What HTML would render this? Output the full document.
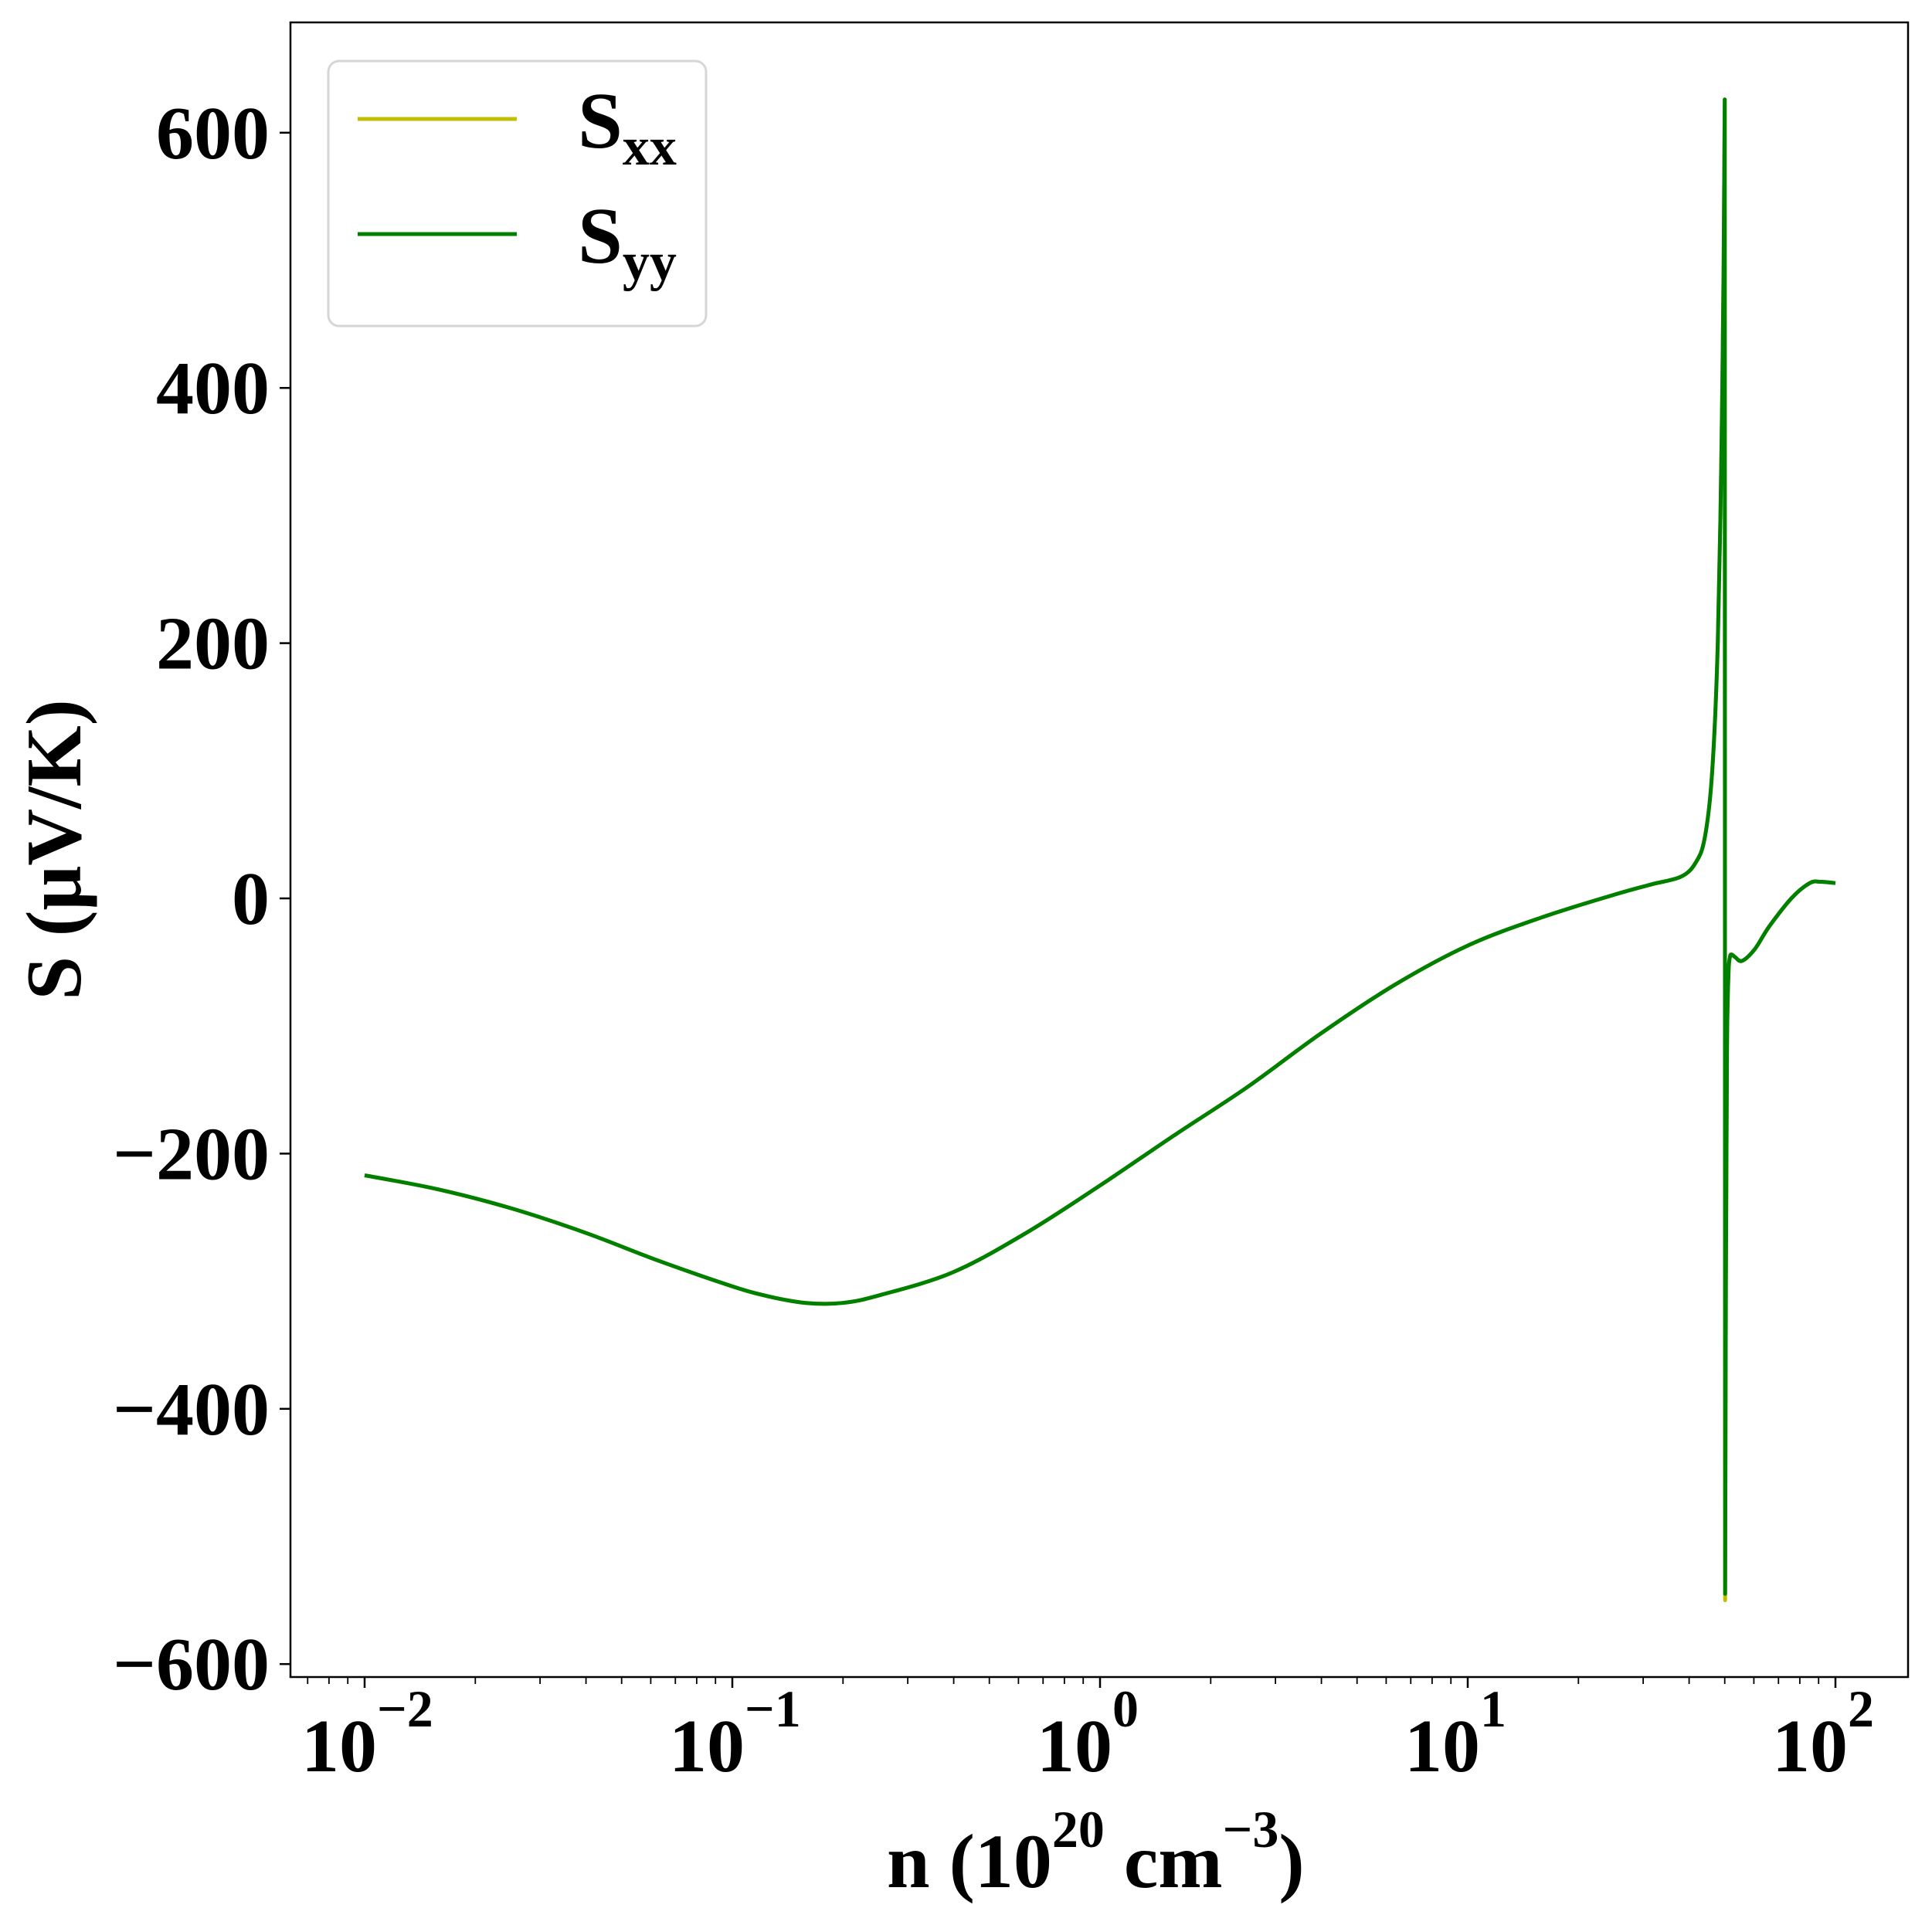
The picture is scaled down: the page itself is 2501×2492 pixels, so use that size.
<!DOCTYPE html>
<html><head><meta charset="utf-8"><style>
html,body{margin:0;padding:0;background:#fff;}
svg{display:block;font-family:"Liberation Serif","Times New Roman",serif;font-weight:bold;}
</style></head><body>
<svg id="chart" width="2501" height="2492" viewBox="0 0 2501 2492" xmlns="http://www.w3.org/2000/svg">
<rect width="2501" height="2492" fill="#fff"/>
<g id="ticks"></g>
<g id="series"></g>
<rect x="376" y="29" width="2094" height="2142" fill="none" stroke="#000" stroke-width="2.5"/>
<g>
<rect x="425" y="79" width="489" height="343" rx="14" fill="#fff" fill-opacity="0.8" stroke="#d6d6d6" stroke-width="3"/>
<line x1="463" y1="154" x2="669" y2="154" stroke="#bfbf00" stroke-width="5"/>
<text x="748" y="191" font-size="104">S<tspan font-size="70" dy="22">xx</tspan></text>
<line x1="463" y1="303" x2="669" y2="303" stroke="#008000" stroke-width="5"/>
<text x="748" y="340" font-size="104">S<tspan font-size="70" dy="22">yy</tspan></text>
</g>
<text transform="translate(104,1100) rotate(-90)" text-anchor="middle" font-size="102">S (μV/K)</text>
<text x="1148" y="2443" font-size="100">n (10<tspan font-size="68" dy="-52">20</tspan><tspan dy="52"> cm</tspan><tspan font-size="68" dy="-52">−3</tspan><tspan dy="52">)</tspan></text>
</svg>
<script>
const logN = [-2,-1.8,-1.6,-1.4,-1.2,-1.0,-0.9,-0.8,-0.7,-0.6,-0.4,-0.2,0,0.2,0.4,0.6,0.8,1.0,1.2,1.4,1.5,1.58,1.62,1.645,1.665,1.68,1.69,1.696,1.699,1.700,1.702,1.705,1.709,1.713,1.718,1.727,1.746,1.78,1.82,1.88,1.93,1.96,2.0];
const sxx = [-217,-228,-243,-262,-284,-304,-312,-317,-317,-311,-293,-262,-225,-186,-148,-106,-68,-37,-15,3,11,17,28,48,100,200,350,500,626,-550,-300,-120,-60,-46,-44,-46,-49,-40,-22,0,12,13,12];
const syy = [-217,-228,-243,-262,-284,-304,-312,-317,-317,-311,-293,-262,-225,-186,-148,-106,-68,-37,-15,3,11,17,28,48,100,200,350,500,626,-545,-300,-120,-60,-46,-44,-46,-49,-40,-22,0,12,13,12];
const yTicks = [-600,-400,-200,0,200,400,600];
const yTickLabels = ["−600","−400","−200","0","200","400","600"];
const xDecades = [-2,-1,0,1,2];
const xTickExps = ["−2","−1","0","1","2"];

const NS="http://www.w3.org/2000/svg";
function X(l){return 472+(l+2)*476;}
function Y(v){return 1163-v*1.652;}
const tg=document.getElementById('ticks'), sg=document.getElementById('series');
function mk(tag,attrs,parent){const e=document.createElementNS(NS,tag);for(const k in attrs)e.setAttribute(k,attrs[k]);parent.appendChild(e);return e;}
yTicks.forEach((v,i)=>{
  const l=mk('line',{x1:362,x2:376,y1:Y(v),y2:Y(v),stroke:'#000','stroke-width':2.5},tg);
  
  
  const t=mk('text',{x:349,y:Y(v)+33,'text-anchor':'end','font-size':98},tg);
  t.textContent=yTickLabels[i];
  
  
});
xDecades.forEach((d,i)=>{
  const l=mk('line',{x1:X(d),x2:X(d),y1:2171,y2:2185,stroke:'#000','stroke-width':2.5},tg);
  
  
  const t=mk('text',{x:X(d)-82,y:2293,'font-size':98},tg);
  t.textContent='10';
  const s=mk('tspan',{'font-size':68,dy:-58},t);
  s.textContent=xTickExps[i];
  
  
});
for(let d=-3;d<=2;d++){for(let m=2;m<=9;m++){const l=d+Math.log10(m);const x=X(l);if(x<378||x>2468)continue;
  const e=mk('line',{x1:x,x2:x,y1:2171,y2:2180,stroke:'#000','stroke-width':1.8},tg);
  
  }}
function path(vals){
  const P=logN.map((l,i)=>[X(l),Y(vals[i])]);
  let d='M'+P[0][0].toFixed(1)+','+P[0][1].toFixed(1);
  for(let i=0;i<P.length-1;i++){
    const p0=P[Math.max(0,i-1)],p1=P[i],p2=P[i+1],p3=P[Math.min(P.length-1,i+2)];
    const big=Math.abs(p2[1]-p1[1])>300||Math.abs(p1[1]-p0[1])>300||Math.abs(p3[1]-p2[1])>300;
    if(big){d+=' L'+p2[0].toFixed(1)+','+p2[1].toFixed(1);continue;}
    const c1=[p1[0]+(p2[0]-p0[0])/6,p1[1]+(p2[1]-p0[1])/6],c2=[p2[0]-(p3[0]-p1[0])/6,p2[1]-(p3[1]-p1[1])/6];
    d+=' C'+c1.map(v=>v.toFixed(1)).join(',')+' '+c2.map(v=>v.toFixed(1)).join(',')+' '+p2.map(v=>v.toFixed(1)).join(',');
  }
  return d;
}
const p1=mk('path',{d:path(sxx),fill:'none',stroke:'#bfbf00','stroke-width':5,'stroke-linejoin':'round'},sg);


const p2=mk('path',{d:path(syy),fill:'none',stroke:'#008000','stroke-width':5,'stroke-linejoin':'round'},sg);


</script>
</body></html>
